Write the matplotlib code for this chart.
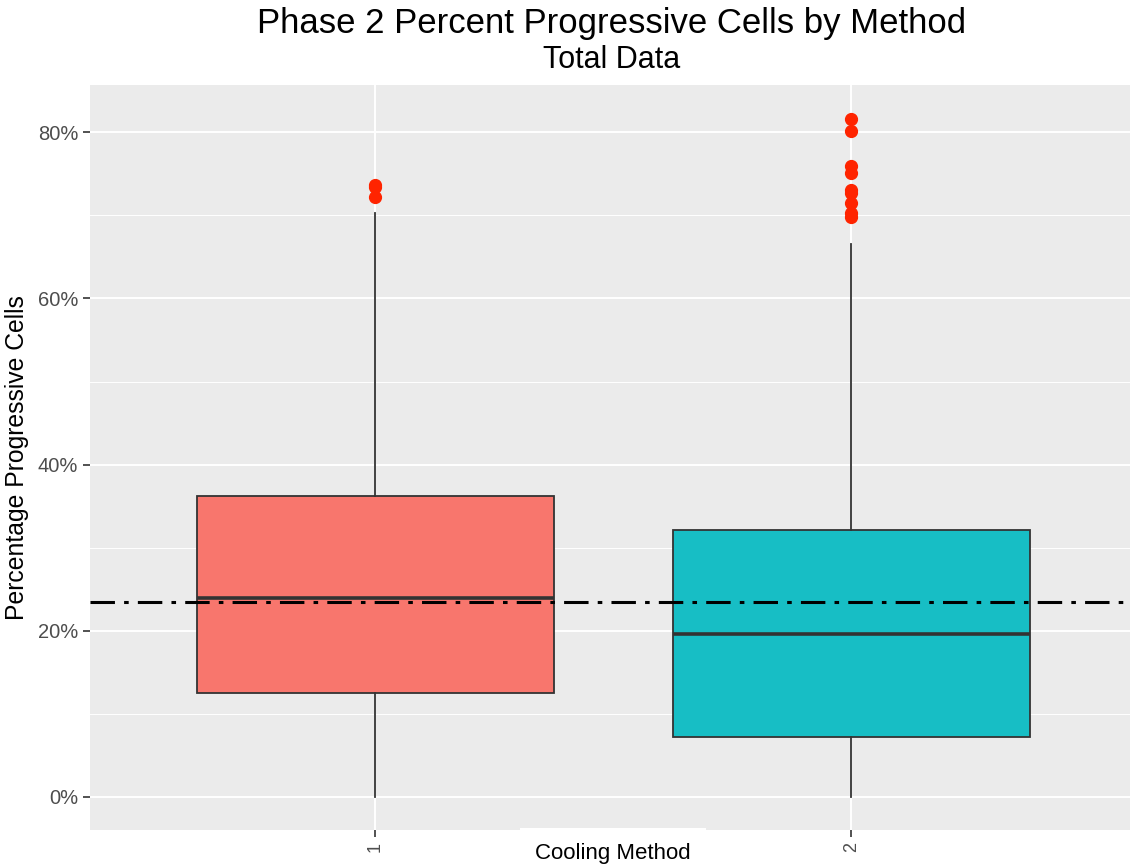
import matplotlib.pyplot as plt
from matplotlib.ticker import FuncFormatter, MultipleLocator

# values (percent)
methods = ["1", "2"]
q1 = [12.5, 7.2]
medians = [23.9, 19.6]
q3 = [36.2, 32.1]
whisker_lo = [0.0, 0.0]
whisker_hi = [70.3, 66.6]
outliers_1 = [73.7, 73.4, 72.2]
outliers_2 = [81.6, 80.2, 76.0, 75.1, 73.1, 72.7, 71.5, 70.3, 69.8]
overall_mean = 23.45
fill_colors = ["#F8766D", "#17BEC5"]

plt.rcParams['font.family'] = ['Liberation Sans', 'DejaVu Sans']

fig = plt.figure(figsize=(11.3, 8.67), dpi=100)
ax = fig.add_axes([90 / 1130, 37 / 867, 1046.6 / 1130, 745 / 867])
ax.set_facecolor("#EBEBEB")

stats = []
for i, name in enumerate(methods):
    stats.append({
        "label": name,
        "q1": q1[i], "med": medians[i], "q3": q3[i],
        "whislo": whisker_lo[i], "whishi": whisker_hi[i],
        "fliers": [outliers_1, outliers_2][i],
    })

bp = ax.bxp(stats, positions=[1, 2], widths=0.75, patch_artist=True,
            boxprops=dict(edgecolor="#333333", linewidth=1.3),
            medianprops=dict(color="#333333", linewidth=2.6),
            whiskerprops=dict(color="#333333", linewidth=1.3),
            capprops=dict(linewidth=0),
            flierprops=dict(marker="o", markerfacecolor="#FF2400",
                            markeredgecolor="#FF2400", markersize=8.5),
            zorder=3)
for patch, c in zip(bp["boxes"], fill_colors):
    patch.set_facecolor(c)

ax.axhline(overall_mean, color="black", linewidth=2.2, linestyle=(0, (8, 3, 1.5, 3)), zorder=4)

ax.set_xlim(0.4, 2.6)
ax.set_ylim(-4.0, 85.7)
ax.yaxis.set_major_locator(MultipleLocator(20))
ax.yaxis.set_minor_locator(MultipleLocator(10))
ax.yaxis.set_major_formatter(FuncFormatter(lambda v, p: f"{v:.0f}%"))
ax.set_xticks([1, 2])
ax.set_xticklabels(methods, rotation=90, va="top")

ax.grid(which="major", color="white", linewidth=1.4, zorder=0)
ax.grid(which="minor", axis="y", color="white", linewidth=0.7, zorder=0)
ax.set_axisbelow(True)
for s in ax.spines.values():
    s.set_visible(False)
ax.tick_params(axis="both", which="major", colors="#333333", length=5, width=1.2,
               labelsize=14.5, labelcolor="#4D4D4D")
ax.tick_params(axis="x", labelsize=13)
ax.tick_params(which="minor", length=0)

ax.set_xlabel("Cooling Method", fontsize=16, labelpad=-6,
              bbox=dict(facecolor="white", edgecolor="none", pad=11))
ax.set_ylabel("Percentage Progressive Cells", fontsize=17.8, labelpad=6.5)

fig.text(612 / 1130, 1 - 23 / 867, "Phase 2 Percent Progressive Cells by Method",
         ha="center", va="center", fontsize=25)
fig.text(612 / 1130, 1 - 60 / 867, "Total Data", ha="center", va="center", fontsize=22)

fig.savefig("out.png", dpi=100)
